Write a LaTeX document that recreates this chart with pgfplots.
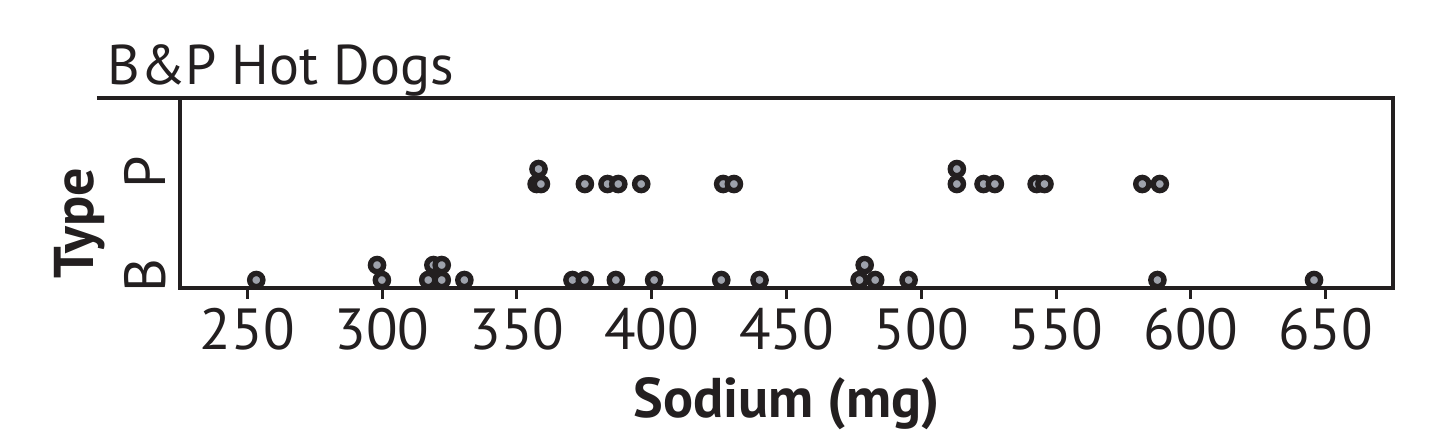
\documentclass[border=0pt]{standalone}
\usepackage{fontspec}
\setmainfont{PT Sans}
\usepackage{pgfplots}
\pgfplotsset{compat=1.18}
\definecolor{ink}{HTML}{231F20}
\definecolor{dotfill}{HTML}{9EA2AC}
\begin{document}
\begin{tikzpicture}
\begin{axis}[
  scale only axis, width=606.5pt, height=95pt,
  xmin=225, xmax=675, ymin=-0.083, ymax=1.896,
  xtick={250,300,...,650},
  ytick={0.042,1.125}, yticklabels={B,P},
  axis line style={line width=2pt, draw=ink},
  xtick pos=bottom, tick align=outside,
  x tick style={line width=1.5pt, draw=ink},
  y tick style={draw=none},
  major tick length=5.5pt,
  /pgf/number format/assume math mode=true,
  /pgf/number format/1000 sep={},
  tick label style={font=\fontsize{29}{33}\selectfont, text=ink},
  xticklabel style={yshift=-1pt},
  yticklabel style={rotate=90, anchor=base, yshift=1.5pt},
  xlabel={\textbf{Sodium (mg)}},
  ylabel={\textbf{Type}},
  label style={font=\fontsize{28}{32}\selectfont, text=ink},
  xlabel style={at={(axis description cs:0.5,0)}, anchor=base, yshift=-65pt},
  ylabel style={at={(axis description cs:0,0.34)}, anchor=base, yshift=43pt},
  clip=false,
]
\addplot[only marks, mark=*, mark size=3.3pt, line width=2.7pt, mark options={line width=2.7pt, draw=ink, fill=dotfill}] coordinates {
(253.3,0) (299.9,0) (298.1,0.156) (317.1,0) (322.1,0) (319.0,0.156) (322.1,0.156) (330.5,0) (370.6,0) (375.2,0) (386.7,0) (400.9,0) (425.8,0) (440.0,0) (477.1,0) (482.9,0) (479.0,0.156) (495.3,0) (587.6,0) (645.7,0)
};
\addplot[only marks, mark=*, mark size=3.3pt, line width=2.7pt, mark options={line width=2.7pt, draw=ink, fill=dotfill}] coordinates {
(357.3,1) (358.9,1) (358.0,1.156) (375.2,1) (383.6,1) (387.6,1) (396.1,1) (426.5,1) (430.5,1) (513.2,1) (513.2,1.156) (523.1,1) (527.3,1) (542.8,1) (545.7,1) (582.0,1) (588.5,1)
};
\draw[line width=2pt, draw=ink] ([xshift=-41.5pt]rel axis cs:0,1) -- (rel axis cs:1,1);
\node[anchor=base west, inner sep=0pt, font=\fontsize{28}{32}\selectfont, text=ink] at ([xshift=-36.5pt, yshift=6.5pt]rel axis cs:0,1) {B\&P Hot Dogs};
\coordinate (SW) at (rel axis cs:0,0);
\coordinate (NE) at (rel axis cs:1,1);
\end{axis}
\path ([xshift=-90pt,yshift=-77pt]SW) rectangle ([xshift=27.5pt,yshift=49pt]NE);
\end{tikzpicture}
\end{document}
